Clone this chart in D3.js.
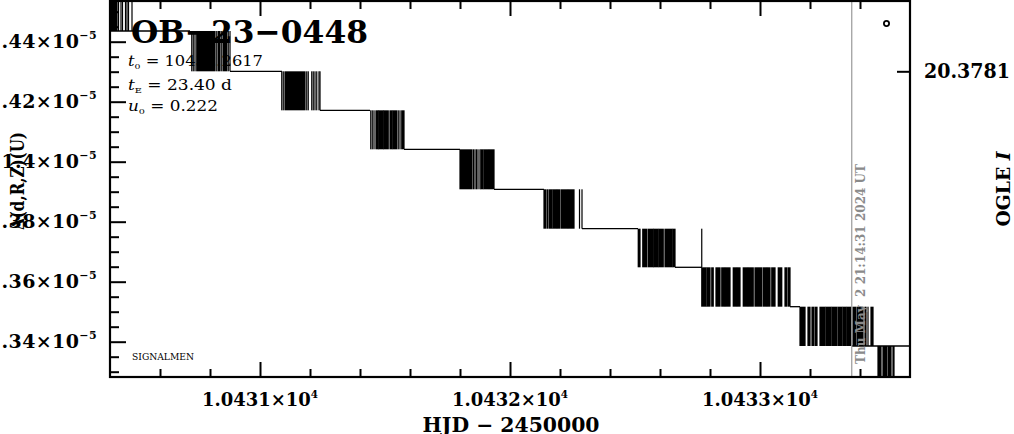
<!DOCTYPE html>
<html><head><meta charset="utf-8">
<script src="https://cdn.jsdelivr.net/npm/d3@7"></script>
<style>
html,body{margin:0;padding:0;background:#fff;overflow:hidden}
svg{display:block}
text{font-family:"DejaVu Serif",serif;fill:#000}
</style>
</head><body>
<svg id="c" width="1014" height="434"></svg>
<script>
// ---------------- data ----------------
const eventName = "OB\u221223\u22120448";
const fitSymbols = ["t", "t", "u"];
const fitSubscripts = ["0", "E", "0"];
const fitValues = ["10432.2617", "23.40 d", "0.222"];
const footNote = "SIGNALMEN";
const xAxisTitle = "HJD \u2212 2450000";
const yAxisTitle = "\u0394(d,R,Z)(U)";
const rightAxisTitle = "OGLE ";
const rightAxisTitleItalic = "I";

const hjdMajorTicks = [10431, 10432, 10433];
const hjdTickMantissa = ["1.0431", "1.0432", "1.0433"];
const hjdTickExponent = "4";
const fluxMajorTicks = [1.34e-5, 1.36e-5, 1.38e-5, 1.40e-5, 1.42e-5, 1.44e-5];
const fluxTickMantissa = ["1.34", "1.36", "1.38", "1.4", "1.42", "1.44"];
const fluxTickExponent = "\u22125";
const magTickLabels = ["20.3781"];
const magTickFlux = [1.43013e-5];

// quantised flux levels (step boundaries)
const fluxLevels = [1.45667e-5, 1.44357e-5, 1.43013e-5, 1.41713e-5, 1.40413e-5,
  1.39080e-5, 1.37767e-5, 1.36480e-5, 1.35167e-5, 1.33857e-5, 1.32547e-5];

// bursts of measurements jumping between level k and level k+1  ([t] or [t0,t1], HJD-2450000)
const burst0 = [[10430.404,10430.428],[10430.434],[10430.444],[10430.450],[10430.462],[10430.468],[10430.474],[10430.488]];
const burst1 = [[10430.727],[10430.733],[10430.740],[10430.747,10430.820],[10430.827],[10430.833,10430.840],[10430.847],[10430.853,10430.867],[10430.873],[10430.880]];
const burst2 = [[10431.087],[10431.093],[10431.100,10431.180],[10431.187],[10431.193],[10431.207],[10431.213],[10431.220],[10431.227],[10431.236],[10431.240]];
const burst3 = [[10431.443],[10431.449],[10431.456],[10431.464,10431.473],[10431.476,10431.493],[10431.496,10431.513],[10431.520,10431.527],[10431.531,10431.547],[10431.553],[10431.560],[10431.567,10431.576]];
const burst4 = [[10431.800,10431.848],[10431.854],[10431.860],[10431.866],[10431.872],[10431.880],[10431.884,10431.892],[10431.896,10431.914],[10431.918,10431.936]];
const burst5 = [[10432.136,10432.144],[10432.150],[10432.156,10432.168],[10432.172,10432.186],[10432.190,10432.198],[10432.204,10432.230],[10432.234,10432.256],[10432.278],[10432.288]];
const burst6 = [[10432.513,10432.520],[10432.531,10432.547],[10432.553,10432.573],[10432.576,10432.593],[10432.597,10432.613],[10432.620,10432.647],[10432.651,10432.660],[10432.767]];
const burst7 = [[10432.767,10432.784],[10432.788,10432.800],[10432.807,10432.813],[10432.824,10432.840],[10432.847,10432.858],[10432.862,10432.880],[10432.893,10432.906],[10432.910,10432.920],[10432.933,10432.950],[10432.954,10432.973],[10432.980,10433.007],[10433.013,10433.026],[10433.030,10433.040],[10433.047,10433.060],[10433.073,10433.087],[10433.100,10433.108],[10433.114,10433.120]];
const burst8 = [[10433.160,10433.180],[10433.192,10433.200],[10433.208,10433.216],[10433.222,10433.228],[10433.240,10433.260],[10433.264,10433.284],[10433.288,10433.307],[10433.312,10433.328],[10433.332,10433.345],[10433.349,10433.364],[10433.372,10433.384],[10433.390,10433.412],[10433.420,10433.424],[10433.432],[10433.444,10433.452]];
const burst9 = [[10433.472,10433.484],[10433.492,10433.508],[10433.514,10433.524],[10433.532,10433.536]];
const bursts = [burst0, burst1, burst2, burst3, burst4, burst5, burst6, burst7, burst8, burst9];

// quiet stretches sitting on level k+1
const plateaus = [[10430.404,10430.720],[10430.880,10431.088],[10431.240,10431.440],[10431.576,10431.800],
  [10431.936,10432.136],[10432.288,10432.512],[10432.660,10432.768],[10433.120,10433.160],[10433.368,10433.600]];

const stampHJD = 10433.367;
const stampText = "Thu May  2 21:14:31 2024 UT";

// ---------------- layout ----------------
const svg = d3.select("#c");
const L = 110, R = 910, T = 1, B = 377;
const x = d3.scaleLinear().domain([10430.4, 10433.6]).range([L, R]);
const y = d3.scaleLinear().domain([1.44e-5, 1.34e-5]).range([41.7, 341.7]);

svg.append("defs").append("clipPath").attr("id","plot")
  .append("rect").attr("x",L).attr("y",T).attr("width",R-L).attr("height",B-T);

const plot = svg.append("g").attr("clip-path","url(#plot)");

// bursts
bursts.forEach((bars, k) => {
  const y0 = y(fluxLevels[k]), y1 = y(fluxLevels[k+1]);
  plot.append("g").selectAll("rect").data(bars).join("rect")
    .attr("x", d => x(d[0]) - 0.6)
    .attr("width", d => Math.max(1.2, x(d[d.length-1]) - x(d[0]) + 1.2))
    .attr("y", Math.min(y0,y1))
    .attr("height", Math.abs(y1-y0))
    .attr("fill", "#000");
});
// plateaus
const line = d3.line().x(d => x(d[0])).y(d => y(d[1]));
plot.selectAll("path.plateau").data(plateaus).join("path")
  .attr("class","plateau")
  .attr("d", (d,i) => line([[d[0], fluxLevels[i+1]], [d[1], fluxLevels[i+1]]]))
  .attr("stroke","#000").attr("stroke-width",1.3).attr("fill","none");

// stamp line
plot.append("line").attr("x1",x(stampHJD)).attr("x2",x(stampHJD)).attr("y1",T).attr("y2",B)
  .attr("stroke","#999").attr("stroke-width",1.2);

// ---------------- axes ----------------
const hjdMinor = d3.range(10430.6, 10433.5, 0.2).filter(v => !hjdMajorTicks.some(m => Math.abs(m-v) < 1e-6));
const fluxMinor = d3.range(1.33e-5, 1.4551e-5, 0.05e-6).filter(v => !fluxMajorTicks.some(m => Math.abs(m-v) < 1e-9));
function styleAxis(g){ g.select(".domain").remove(); g.selectAll("text").remove(); g.selectAll("line").attr("stroke","#000").attr("stroke-width",2); }

svg.append("g").attr("transform",`translate(0,${B})`).call(d3.axisTop(x).tickValues(hjdMajorTicks).tickSize(15)).call(styleAxis);
svg.append("g").attr("transform",`translate(0,${B})`).call(d3.axisTop(x).tickValues(hjdMinor).tickSize(8)).call(styleAxis);
svg.append("g").attr("transform",`translate(0,${T})`).call(d3.axisBottom(x).tickValues(hjdMajorTicks).tickSize(15)).call(styleAxis);
svg.append("g").attr("transform",`translate(0,${T})`).call(d3.axisBottom(x).tickValues(hjdMinor).tickSize(8)).call(styleAxis);
svg.append("g").attr("transform",`translate(${L},0)`).call(d3.axisRight(y).tickValues(fluxMajorTicks).tickSize(16)).call(styleAxis);
svg.append("g").attr("transform",`translate(${L},0)`).call(d3.axisRight(y).tickValues(fluxMinor).tickSize(9)).call(styleAxis);
svg.append("g").attr("transform",`translate(${R},0)`).call(d3.axisLeft(y).tickValues(magTickFlux).tickSize(13)).call(styleAxis);

// frame
svg.append("rect").attr("x",L).attr("y",T).attr("width",R-L).attr("height",B-T)
  .attr("fill","none").attr("stroke","#000").attr("stroke-width",2.2);

// x tick labels
const xl = svg.append("g").selectAll("text").data(hjdMajorTicks).join("text")
  .attr("x", d => x(d)).attr("y", 406).attr("text-anchor","middle")
  .style("font-size","19px").style("font-weight","bold")
  .attr("textLength",116).attr("lengthAdjust","spacingAndGlyphs");
xl.append("tspan").text((d,i) => hjdTickMantissa[i] + "\u00d710");
xl.append("tspan").attr("dy",-8).style("font-size","11px").text(hjdTickExponent);

// y tick labels
const yl = svg.append("g").selectAll("text").data(fluxMajorTicks).join("text")
  .attr("x", 97).attr("y", d => y(d) + 6.5).attr("text-anchor","end")
  .style("font-size","19px").style("font-weight","bold").style("letter-spacing","0.4px");
yl.append("tspan").text((d,i) => fluxTickMantissa[i] + "\u00d710");
yl.append("tspan").attr("dy",-9).style("font-size","11px").text(fluxTickExponent);

// right tick label
svg.append("g").selectAll("text").data(magTickFlux).join("text")
  .attr("x", 924).attr("y", d => y(d) + 7)
  .style("font-size","20px").style("font-weight","bold")
  .attr("textLength",86).attr("lengthAdjust","spacingAndGlyphs")
  .text((d,i) => magTickLabels[i]);

// axis titles
svg.append("text").attr("x",511).attr("y",432).attr("text-anchor","middle")
  .style("font-size","20px").style("font-weight","bold").style("white-space","pre")
  .attr("textLength",177).attr("lengthAdjust","spacingAndGlyphs").text(xAxisTitle);
svg.append("text").attr("transform","translate(24,181) rotate(-90)").attr("text-anchor","middle")
  .style("font-size","19px").style("font-weight","bold")
  .attr("textLength",98).attr("lengthAdjust","spacingAndGlyphs").text(yAxisTitle);
const rt = svg.append("text").attr("transform","translate(1010,189) rotate(-90)").attr("text-anchor","middle")
  .style("font-size","19px").style("font-weight","bold").style("white-space","pre")
  .attr("textLength",75).attr("lengthAdjust","spacingAndGlyphs");
rt.append("tspan").text(rightAxisTitle);
rt.append("tspan").style("font-style","italic").text(rightAxisTitleItalic);

// legend marker
svg.append("circle").attr("cx",886.5).attr("cy",23.5).attr("r",2.6)
  .attr("fill","none").attr("stroke","#000").attr("stroke-width",1.8);

// title
svg.append("text").attr("x",131).attr("y",43).style("font-size","32px").style("font-weight","bold")
  .attr("textLength",237).attr("lengthAdjust","spacingAndGlyphs").text(eventName);

// fit parameters
const fitBase = [65.5, 89.5, 110.5];
const fitWidths = [135, 104, 90];
fitValues.forEach((v,i) => {
  const t = svg.append("text").attr("x",128).attr("y",fitBase[i]).style("font-size","14px")
    .style("white-space","pre").attr("textLength",fitWidths[i]).attr("lengthAdjust","spacingAndGlyphs");
  t.append("tspan").style("font-style","italic").text(fitSymbols[i]);
  t.append("tspan").attr("dy",3).style("font-size","8px").text(fitSubscripts[i]);
  t.append("tspan").attr("dy",-3).text(" = " + v);
});

// footnote
svg.append("text").attr("x",132).attr("y",359.5).style("font-size","10px")
  .attr("textLength",62).attr("lengthAdjust","spacingAndGlyphs").text(footNote);

// stamp
svg.append("text").attr("transform",`translate(${x(stampHJD)+13},364) rotate(-90)`)
  .style("font-size","12px").style("font-weight","bold").style("fill","#8a8a8a").style("white-space","pre")
  .attr("textLength",200).attr("lengthAdjust","spacingAndGlyphs").text(stampText);
</script>
</body></html>
